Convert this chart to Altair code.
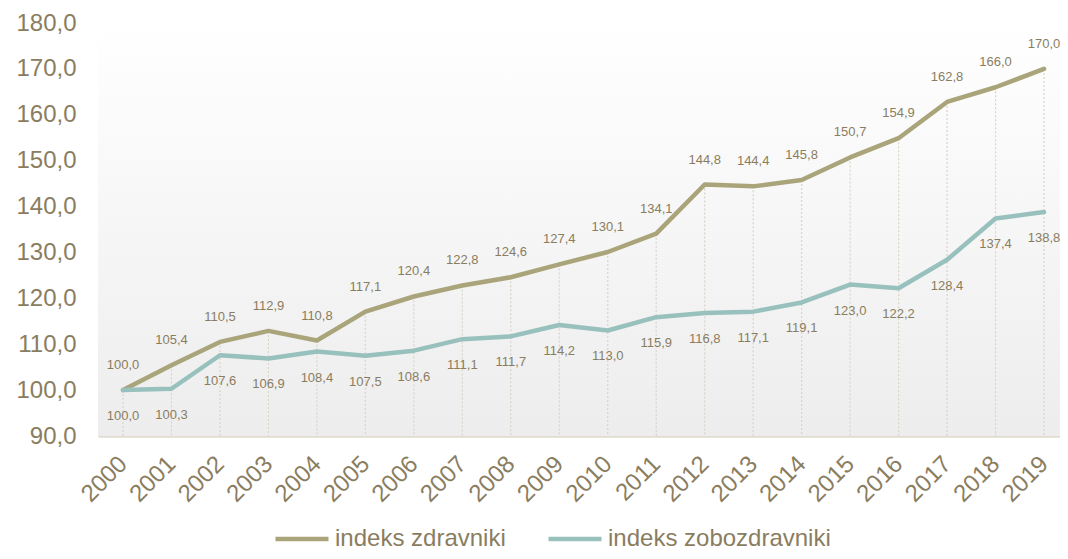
import altair as alt
import pandas as pd

years = [str(y) for y in range(2000, 2020)]
zdravniki = [100.0, 105.4, 110.5, 112.9, 110.8, 117.1, 120.4, 122.8, 124.6, 127.4,
             130.1, 134.1, 144.8, 144.4, 145.8, 150.7, 154.9, 162.8, 166.0, 170.0]
zobozdravniki = [100.0, 100.3, 107.6, 106.9, 108.4, 107.5, 108.6, 111.1, 111.7, 114.2,
                 113.0, 115.9, 116.8, 117.1, 119.1, 123.0, 122.2, 128.4, 137.4, 138.8]
series_names = ["indeks zdravniki", "indeks zobozdravniki"]
y_ticks = [90, 100, 110, 120, 130, 140, 150, 160, 170, 180]

TXT = "#8a7d5f"
C1 = "#aaa47b"
C2 = "#98c1be"
FONT = "Liberation Sans"
W, H = 962, 413

def fmt(v):
    return f"{v:.1f}".replace(".", ",")

rows = []
for i, y in enumerate(years):
    rows.append({"year": y, "series": series_names[0], "value": zdravniki[i], "label": fmt(zdravniki[i])})
    rows.append({"year": y, "series": series_names[1], "value": zobozdravniki[i], "label": fmt(zobozdravniki[i])})
df = pd.DataFrame(rows)
df_top = pd.DataFrame({"year": years, "top": zdravniki, "base": [90] * len(years)})

xscale = alt.Scale(type="point", padding=0.423, align=0.61)
x = alt.X("year:N", scale=xscale, sort=years,
          axis=alt.Axis(title=None, labelAngle=315, labelAlign="right", labelBaseline="middle",
                        labelPadding=24, ticks=False, labelFontSize=24, labelColor=TXT,
                        labelFont=FONT, domainColor="#e0dcd2", domainWidth=2.5, grid=False))
yscale = alt.Scale(domain=[90, 180], nice=False, zero=False)

bg = alt.Chart(pd.DataFrame({"a": [0]})).mark_rect(
    color=alt.Gradient(gradient="linear", x1=0, y1=0, x2=0, y2=1,
                       stops=[alt.GradientStop(color="#ffffff", offset=0),
                              alt.GradientStop(color="#ededed", offset=1)])
).encode(x=alt.value(0), x2=alt.value(W), y=alt.value(0), y2=alt.value(H))

drops = alt.Chart(df_top).mark_rule(color="#d9d4c8", strokeDash=[2, 2], strokeWidth=1.2).encode(
    x=x,
    y=alt.Y("top:Q", scale=yscale,
            axis=alt.Axis(title=None, values=y_ticks, labelExpr="replace(format(datum.value, '.1f'), '.', ',')",
                          ticks=False, domain=False, grid=False, labelFontSize=24, labelColor=TXT,
                          labelFont=FONT, labelPadding=22)),
    y2="base:Q",
)

lines = alt.Chart(df).mark_line(strokeWidth=4.5, strokeJoin="round", strokeCap="round").encode(
    x=x,
    y=alt.Y("value:Q", scale=yscale),
    color=alt.Color("series:N", scale=alt.Scale(domain=series_names, range=[C1, C2]),
                    legend=alt.Legend(title=None, orient="none", direction="horizontal",
                                      legendX=175, legendY=487, symbolType="stroke",
                                      symbolSize=2809, symbolStrokeWidth=4.5, labelFontSize=24,
                                      labelColor=TXT, labelFont=FONT, labelOffset=4, labelLimit=600,
                                      columnPadding=33, padding=0)),
    order=alt.Order("year:N"),
)

lab_top = alt.Chart(df[df.series == series_names[0]]).mark_text(
    dy=-25, fontSize=13, color=TXT, font=FONT).encode(
    x=x, y=alt.Y("value:Q", scale=yscale), text="label:N")
lab_bot = alt.Chart(df[df.series == series_names[1]]).mark_text(
    dy=26, fontSize=13, color=TXT, font=FONT).encode(
    x=x, y=alt.Y("value:Q", scale=yscale), text="label:N")

chart = alt.layer(bg, drops, lines, lab_top, lab_bot).properties(
    width=W, height=H,
    autosize=alt.AutoSizeParams(type="none"),
    padding={"left": 90, "top": 15, "right": 0, "bottom": 115},
).configure_view(stroke=None)

chart.save("out.html", embed_options={"renderer": "svg", "actions": False})
